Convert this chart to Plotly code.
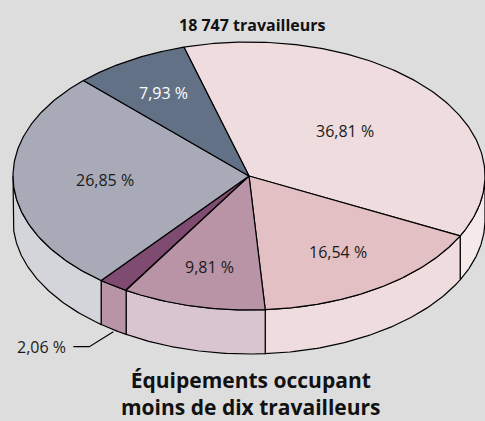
import numpy as np
import plotly.graph_objects as go

# ---- data ----
slice_values = [36.81, 16.54, 9.81, 2.06, 26.85, 7.93]
slice_labels = ["36,81 %", "16,54 %", "9,81 %", "2,06 %", "26,85 %", "7,93 %"]
total_label = "18 747 travailleurs"
title_lines = ["Équipements occupant", "moins de dix travailleurs"]

# ---- styles ----
top_colors = ["#eedcde", "#e3c0c4", "#b994a6", "#7f4b70", "#a8abb7", "#627186"]
side_colors = ["#f5e9ea", "#eedcde", "#d9c5d0", "#b994a6", "#d4d4db", "#8e99aa"]
label_colors = ["#1a1a1a", "#1a1a1a", "#1a1a1a", "#1a1a1a", "#1a1a1a", "#ffffff"]
label_radius = [0.53, 0.68, 0.70, None, 0.61, 0.72]
BG = "#dddddd"
FONT = "Open Sans"

# ---- geometry (pixel-like coordinate system) ----
W, H = 485, 421
CX, CY, RX, RY, DEPTH = 249, 176, 236, 134, 44
START = 106.0  # parametric angle (deg) of first slice edge, slices go clockwise


def pt(t_deg, dy=0.0):
    t = np.radians(t_deg)
    return CX + RX * np.cos(t), CY - RY * np.sin(t) + dy


fig = go.Figure()

angles = []
acc = START
for v in slice_values:
    a0 = acc
    a1 = acc - v * 3.6
    angles.append((a0, a1))
    acc = a1

# side walls (front half: parametric angles between -180 and 0)
for i, (a0, a1) in enumerate(angles):
    hi, lo = min(a0, 0.0), max(a1, -180.0)
    if hi <= lo:
        continue
    t = np.linspace(hi, lo, 80)
    xt, yt = pt(t)
    xb, yb = pt(t[::-1], DEPTH)
    xs = np.concatenate([xt, xb, xt[:1]])
    ys = np.concatenate([yt, yb, yt[:1]])
    fig.add_trace(go.Scatter(x=xs, y=ys, mode="lines", fill="toself",
                             fillcolor=side_colors[i],
                             line=dict(color="black", width=1.2),
                             hoverinfo="skip", showlegend=False))

# top faces
for i, (a0, a1) in enumerate(angles):
    t = np.linspace(a0, a1, 160)
    xa, ya = pt(t)
    xs = np.concatenate([[CX], xa, [CX]])
    ys = np.concatenate([[CY], ya, [CY]])
    fig.add_trace(go.Scatter(x=xs, y=ys, mode="lines", fill="toself",
                             fillcolor=top_colors[i],
                             line=dict(color="black", width=1.2),
                             hoverinfo="skip", showlegend=False))

annotations = []
for i, (a0, a1) in enumerate(angles):
    r = label_radius[i]
    if r is None:
        continue
    m = np.radians((a0 + a1) / 2)
    annotations.append(dict(x=CX + r * RX * np.cos(m), y=CY - r * RY * np.sin(m),
                            text=slice_labels[i], showarrow=False,
                            font=dict(family=FONT, size=16, color=label_colors[i])))

# small slice: outside label with leader line
i_small = 3
a0, a1 = angles[i_small]
mx, my = pt((a0 + a1) / 2, DEPTH + 2)
lx = [mx, mx - 24, mx - 40]
ly = [my, my + 15, my + 15]
fig.add_trace(go.Scatter(x=lx, y=ly, mode="lines", line=dict(color="black", width=1.2),
                         hoverinfo="skip", showlegend=False))
annotations.append(dict(x=lx[-1] - 5, y=ly[-1], xanchor="right", text=slice_labels[i_small],
                        showarrow=False, font=dict(family=FONT, size=16, color="#1a1a1a")))

annotations.append(dict(x=252, y=25, text="<b>" + total_label + "</b>", showarrow=False,
                        font=dict(family=FONT, size=16, color="#111111")))
annotations.append(dict(x=251, y=393, text="<b>" + "<br>".join(title_lines) + "</b>",
                        showarrow=False, align="center",
                        font=dict(family=FONT, size=21, color="#111111")))

fig.update_layout(
    width=W, height=H,
    margin=dict(l=0, r=0, t=0, b=0),
    paper_bgcolor=BG, plot_bgcolor=BG,
    xaxis=dict(range=[0, W], visible=False, fixedrange=True),
    yaxis=dict(range=[H, 0], visible=False, fixedrange=True),
    annotations=annotations,
    showlegend=False,
)

fig.write_html("out.html",
               config={"displayModeBar": False, "staticPlot": True},
               post_script="document.body.style.margin='0';"
                           "document.body.style.overflow='hidden';"
                           "document.body.style.background='" + BG + "';")
